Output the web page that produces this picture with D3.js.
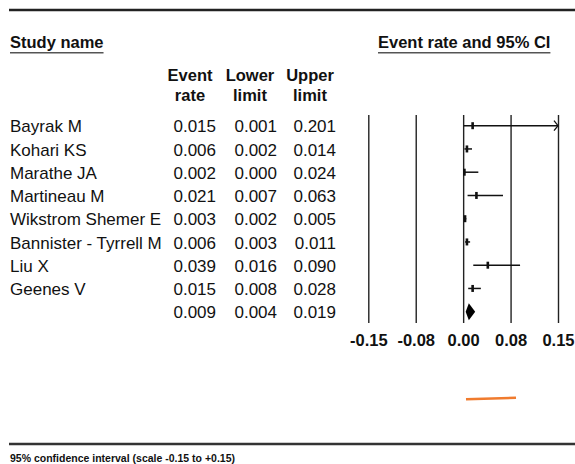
<!DOCTYPE html>
<html>
<head>
<meta charset="utf-8">
<script src="https://cdn.jsdelivr.net/npm/d3@7"></script>
<style>
	body { margin: 0; background: #fff; }
	svg { display: block; font-family: "Liberation Sans", Arial, sans-serif; }
	.hdr { font-weight: bold; font-size: 16.5px; fill: #111; }
	.row { font-size: 17px; fill: #111; }
	.axis text { font-weight: bold; font-size: 16.5px; fill: #111; }
	.axis line { stroke: #222; stroke-width: 1.4; }
</style>
</head>
<body>
<script>
	// study rows
	var studies = ["Bayrak M", "Kohari KS", "Marathe JA", "Martineau M", "Wikstrom Shemer E",
		"Bannister - Tyrrell M", "Liu X", "Geenes V"];
	var eventRate  = [0.015, 0.006, 0.002, 0.021, 0.003, 0.006, 0.039, 0.015];
	var lowerLimit = [0.001, 0.002, 0.000, 0.007, 0.002, 0.003, 0.016, 0.008];
	var upperLimit = [0.201, 0.014, 0.024, 0.063, 0.005, 0.011, 0.090, 0.028];
	// pooled estimate: rate, lower, upper
	var pooled = [0.009, 0.004, 0.019];

	var xTicks = [-0.15, -0.075, 0, 0.075, 0.15];
	var xTickLabels = ["-0.15", "-0.08", "0.00", "0.08", "0.15"];

	var W = 575, H = 464;
	var svg = d3.select("body").append("svg")
		.attr("width", W)
		.attr("height", H);

	var x = d3.scaleLinear().domain([-0.15, 0.15]).range([368.3, 558]);
	var y = d3.scalePoint()
		.domain(d3.range(studies.length + 1))
		.range([125.7, 311.7]);

	var plotTop = 115, plotBottom = 323;

	// frame lines
	svg.append("line").attr("x1", 9).attr("x2", W).attr("y1", 10).attr("y2", 10)
		.attr("stroke", "#222").attr("stroke-width", 2.5);
	svg.append("line").attr("x1", 9).attr("x2", W).attr("y1", 444).attr("y2", 444)
		.attr("stroke", "#333").attr("stroke-width", 2.5);

	// section titles, underlined
	function underlined(txt, x0, y0) {
		var t = svg.append("text").attr("class", "hdr").attr("x", x0).attr("y", y0).text(txt);
		var w = t.node().getComputedTextLength();
		svg.append("line").attr("x1", x0).attr("x2", x0 + w).attr("y1", y0 + 4.5).attr("y2", y0 + 4.5)
			.attr("stroke", "#555").attr("stroke-width", 1.5);
	}
	underlined("Study name", 10, 48.3);
	underlined("Event rate and 95% CI", 378, 48.3);

	// column headers
	var colHeads = [["Event", "rate"], ["Lower", "limit"], ["Upper", "limit"]];
	var colCenter = [190, 250, 310];
	var colRight = [216, 277, 336];
	colHeads.forEach(function(h, i){
		svg.append("text").attr("class", "hdr").attr("text-anchor", "middle")
			.attr("x", colCenter[i]).attr("y", 80.5).text(h[0]);
		svg.append("text").attr("class", "hdr").attr("text-anchor", "middle")
			.attr("x", colCenter[i]).attr("y", 100.5).text(h[1]);
	});

	// table rows
	var rows = studies.map(function(s, i){
		return {name: s, vals: [eventRate[i], lowerLimit[i], upperLimit[i]], i: i};
	});
	rows.push({name: "", vals: pooled, i: studies.length});

	svg.selectAll(".rname").data(rows).enter().append("text")
		.attr("class", "row rname")
		.attr("x", 10)
		.attr("y", function(d){ return y(d.i) + 6.6; })
		.text(function(d){ return d.name; });

	rows.forEach(function(r){
		svg.selectAll(null).data(r.vals).enter().append("text")
			.attr("class", "row")
			.attr("text-anchor", "end")
			.attr("x", function(d, k){ return colRight[k]; })
			.attr("y", y(r.i) + 6.6)
			.text(function(d){ return d3.format(".3f")(d); });
	});

	// vertical reference lines + tick labels
	var axis = d3.axisBottom(x)
		.tickValues(xTicks)
		.tickFormat(function(d, i){ return xTickLabels[i]; })
		.tickSizeInner(-(plotBottom - plotTop))
		.tickSizeOuter(0)
		.tickPadding(11);
	var ax = svg.append("g").attr("class", "axis")
		.attr("transform", "translate(0," + plotBottom + ")")
		.call(axis);
	ax.select(".domain").remove();

	// CIs
	var xmax = x.domain()[1];
	var g = svg.append("g");
	g.selectAll(".ci").data(studies).enter().append("line")
		.attr("x1", function(d, i){ return x(lowerLimit[i]); })
		.attr("x2", function(d, i){ return x(Math.min(upperLimit[i], xmax)); })
		.attr("y1", function(d, i){ return y(i); })
		.attr("y2", function(d, i){ return y(i); })
		.attr("stroke", "#111").attr("stroke-width", 1.5);

	// arrow where CI runs off the scale
	g.selectAll(".arrow").data(studies.filter(function(d, i){ return upperLimit[i] > xmax; }))
		.enter().append("path")
		.attr("d", function(d){
			var i = studies.indexOf(d), xe = x(xmax), yy = y(i);
			return "M" + (xe - 4) + "," + (yy - 5) + "L" + xe + "," + yy + "L" + (xe - 4) + "," + (yy + 5);
		})
		.attr("fill", "none").attr("stroke", "#111").attr("stroke-width", 1.3);

	g.selectAll(".pt").data(studies).enter().append("rect")
		.attr("x", function(d, i){ return x(eventRate[i]) - 1.3; })
		.attr("y", function(d, i){ return y(i) - 3.5; })
		.attr("width", 2.6).attr("height", 7)
		.attr("fill", "#111");

	// pooled diamond
	var yd = y(studies.length), hd = 8.5;
	g.append("path")
		.attr("d", "M" + x(pooled[1]) + "," + yd + "L" + x(pooled[0]) + "," + (yd - hd) +
			"L" + x(pooled[2]) + "," + yd + "L" + x(pooled[0]) + "," + (yd + hd) + "Z")
		.attr("fill", "#000");

	// stray orange stroke
	svg.append("line").attr("x1", 466).attr("y1", 399.3).attr("x2", 516).attr("y2", 397.7)
		.attr("stroke", "#f07b2e").attr("stroke-width", 2.5);

	svg.append("text")
		.attr("x", 10).attr("y", 461.5)
		.attr("font-weight", "bold").attr("font-size", "10.5px").attr("fill", "#111")
		.text("95% confidence interval (scale -0.15 to +0.15)");
</script>
</body>
</html>
